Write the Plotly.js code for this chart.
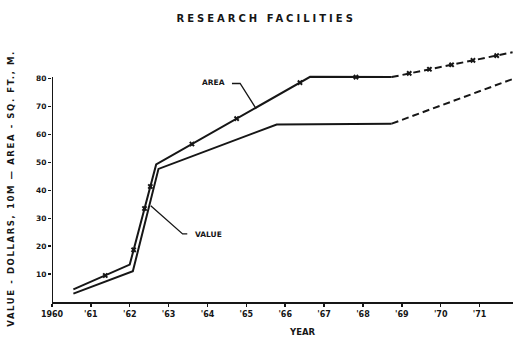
<!DOCTYPE html>
<html>
<head>
<meta charset="utf-8">
<script src="https://cdn.plot.ly/plotly-3.0.1.min.js"></script>
<style>
  html, body { margin: 0; padding: 0; background: #fff; }
  #chart { width: 513px; height: 343px; }
  .spaced text { letter-spacing: 1.6px; }
  .spaced-wide text { letter-spacing: 3px; }
</style>
</head>
<body>
<div id="chart"></div>
<script>
// Research facilities: value (10M dollars) and area (thousand sq. ft.) by year
const tickYears = [1960, 1961, 1962, 1963, 1964, 1965, 1966, 1967, 1968, 1969, 1970, 1971];
const tickText = ["1960", "'61", "'62", "'63", "'64", "'65", "'66", "'67", "'68", "'69", "'70", "'71"];
const yTicks = [10, 20, 30, 40, 50, 60, 70, 80];

// Area – actual and projected
const areaYears = [1960.55, 1962.0, 1962.68, 1966.64, 1968.74];
const areaValues = [4.5, 13.4, 49.3, 80.7, 80.6];
const areaProjYears = [1968.74, 1971.85];
const areaProjValues = [80.6, 89.5];

// Cross marks along the area curve
const areaMarkYears = [1961.37, 1962.10, 1962.38, 1962.53, 1963.60, 1964.75, 1966.38, 1967.82, 1969.19, 1969.71, 1970.28, 1970.83, 1971.44];
const areaMarkValues = [9.5, 18.7, 33.5, 41.4, 56.6, 65.7, 78.6, 80.6, 81.9, 83.4, 85.0, 86.6, 88.3];

// Value – actual and projected
const valueYears = [1960.55, 1962.08, 1962.74, 1965.78, 1968.74];
const valueValues = [3.0, 11.0, 47.7, 63.6, 63.9];
const valueProjYears = [1968.74, 1971.87];
const valueProjValues = [63.9, 80.0];

const ink = '#161616';
const font = { family: 'DejaVu Sans, sans-serif', color: ink, weight: 'bold' };

const traces = [
  { x: areaYears, y: areaValues, mode: 'lines', line: { color: ink, width: 2 }, name: 'AREA' },
  { x: areaProjYears, y: areaProjValues, mode: 'lines', line: { color: ink, width: 2, dash: '7px,4px' }, name: 'AREA (proj.)' },
  { x: areaMarkYears, y: areaMarkValues, mode: 'markers', marker: { symbol: 'x', size: 5, color: ink }, name: 'marks' },
  { x: valueYears, y: valueValues, mode: 'lines', line: { color: ink, width: 2 }, name: 'VALUE' },
  { x: valueProjYears, y: valueProjValues, mode: 'lines', line: { color: ink, width: 2, dash: '7px,4px' }, name: 'VALUE (proj.)' }
];

const layout = {
  width: 513,
  height: 343,
  margin: { l: 52, r: 0, t: 38, b: 41 },
  paper_bgcolor: '#ffffff',
  plot_bgcolor: '#ffffff',
  showlegend: false,
  xaxis: {
    range: [1960, 1971.86],
    tickvals: tickYears,
    ticktext: tickText,
    showgrid: false,
    zeroline: false,
    showline: true,
    linecolor: ink,
    linewidth: 2,
    ticks: 'outside',
    ticklen: 3,
    tickwidth: 1.5,
    tickcolor: ink,
    tickfont: Object.assign({ size: 8 }, font)
  },
  yaxis: {
    range: [0, 94.6],
    tickvals: yTicks,
    showgrid: false,
    zeroline: false,
    showline: false,
    ticks: 'outside',
    ticklen: 3,
    tickwidth: 1.5,
    tickcolor: ink,
    tickfont: Object.assign({ size: 7.5 }, font)
  },
  shapes: [
    // vertical axis line up to the top tick
    { type: 'line', xref: 'x', yref: 'y', x0: 1960, x1: 1960, y0: 0, y1: 80.6, line: { color: ink, width: 2 } },
    // leader for the AREA label
    { type: 'path', xref: 'x', yref: 'y', path: 'M 1964.63 78.3 L 1964.84 78.3 L 1965.25 69.3', line: { color: ink, width: 1.3 } },
    // leader for the VALUE label
    { type: 'path', xref: 'x', yref: 'y', path: 'M 1962.54 34.5 L 1963.36 24.4 L 1963.48 24.4', line: { color: ink, width: 1.3 } }
  ],
  annotations: [
    { text: 'RESEARCH FACILITIES', xref: 'paper', yref: 'paper', x: 0.465, y: 1.072, xanchor: 'center', yanchor: 'middle',
      showarrow: false, font: Object.assign({ size: 10 }, font) },
    { text: 'AREA', xref: 'x', yref: 'y', x: 1964.15, y: 78.5, showarrow: false, xanchor: 'center', yanchor: 'middle',
      font: Object.assign({ size: 7.5 }, font) },
    { text: 'VALUE', xref: 'x', yref: 'y', x: 1964.03, y: 24.3, showarrow: false, xanchor: 'center', yanchor: 'middle',
      font: Object.assign({ size: 7.5 }, font) },
    { text: 'YEAR', xref: 'paper', yref: 'paper', x: 0.543, y: -0.115, showarrow: false, xanchor: 'center', yanchor: 'middle',
      font: Object.assign({ size: 8.5 }, font) },
    { text: 'VALUE - DOLLARS, 10M \u2014 AREA - SQ. FT., M.', xref: 'paper', yref: 'paper', x: -0.088, y: 0.43,
      textangle: -90, showarrow: false, xanchor: 'center', yanchor: 'middle',
      font: Object.assign({ size: 8.5 }, font) }
  ]
};

Plotly.newPlot('chart', traces, layout, { displayModeBar: false, staticPlot: true }).then(function () {
  // widen the letter spacing of the heading and the vertical axis caption
  const notes = document.querySelectorAll('.annotation');
  notes.forEach(function (n, i) {
    if (i === 0) n.classList.add('spaced-wide');
    if (i === 4) n.classList.add('spaced');
  });
});
</script>
</body>
</html>
